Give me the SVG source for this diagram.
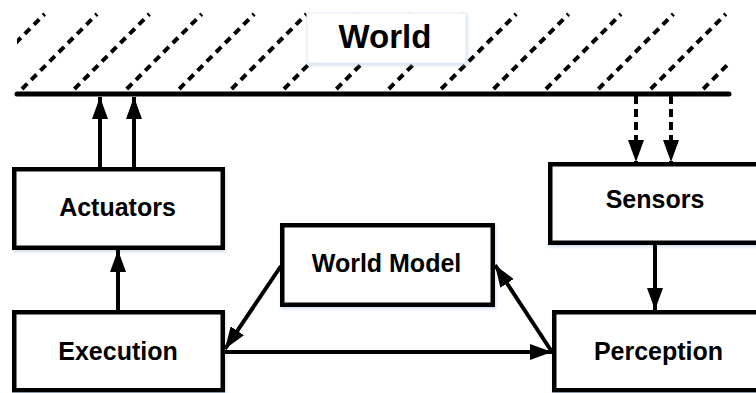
<svg xmlns="http://www.w3.org/2000/svg" width="756" height="393" viewBox="0 0 756 393">
  <style>
    .box { fill: #ffffff; stroke: #000000; stroke-width: 4.5; filter: url(#soft); }
    .lbl { font-family: "Liberation Sans", Arial, sans-serif; font-weight: bold; font-size: 25px; fill: #000000; text-anchor: middle; }
    .title { font-size: 33px; }
    .hatch line { stroke: #000000; stroke-width: 4; stroke-dasharray: 7.5 5.5; stroke-linecap: butt; }
    .link { stroke: #000000; stroke-width: 4; fill: none; }
    .dash { stroke-dasharray: 8 5; }
  </style>
  <defs>
    <marker id="head" markerUnits="userSpaceOnUse" markerWidth="22" markerHeight="16" refX="22" refY="8" orient="auto">
      <path d="M0,0 L22,8 L0,16 z" fill="#000000"/>
    </marker>
    <filter id="soft" x="-10%" y="-10%" width="120%" height="130%">
      <feDropShadow dx="1" dy="2" stdDeviation="1.5" flood-color="#9db8d9" flood-opacity="0.45"/>
    </filter>
    <clipPath id="worldArea">
      <rect x="17" y="12" width="712" height="80"/>
    </clipPath>
  </defs>

  <!-- environment: hatched ground above the boundary line -->
  <g id="world">
    <g class="hatch" clip-path="url(#worldArea)">
      <line x1="-30.4" y1="89" x2="44.6" y2="14"/>
      <line x1="22" y1="89" x2="97" y2="14"/>
      <line x1="74.4" y1="89" x2="149.4" y2="14"/>
      <line x1="126.8" y1="89" x2="201.8" y2="14"/>
      <line x1="179.2" y1="89" x2="254.2" y2="14"/>
      <line x1="231.6" y1="89" x2="306.6" y2="14"/>
      <line x1="284" y1="89" x2="359" y2="14"/>
      <line x1="336.4" y1="89" x2="411.4" y2="14"/>
      <line x1="388.8" y1="89" x2="463.8" y2="14"/>
      <line x1="441.2" y1="89" x2="516.2" y2="14"/>
      <line x1="493.6" y1="89" x2="568.6" y2="14"/>
      <line x1="546" y1="89" x2="621" y2="14"/>
      <line x1="598.4" y1="89" x2="673.4" y2="14"/>
      <line x1="650.8" y1="89" x2="725.8" y2="14"/>
      <line x1="703.2" y1="89" x2="778.2" y2="14"/>
    </g>
    <rect x="307" y="13" width="159" height="50" fill="#ffffff" stroke="#e4ecf4" stroke-width="1" filter="url(#soft)"/>
    <text x="385" y="48" class="lbl title">World</text>
    <line x1="17" y1="94" x2="729" y2="94" stroke="#000000" stroke-width="5" stroke-linecap="round"/>
  </g>

  <g id="actuators">
    <rect class="box" x="14.25" y="169.25" width="208.5" height="78.5"/>
    <text x="117.5" y="216" class="lbl">Actuators</text>
  </g>

  <g id="execution">
    <rect class="box" x="14.25" y="312.25" width="208.5" height="78"/>
    <text x="118" y="360" class="lbl">Execution</text>
  </g>

  <g id="world-model">
    <rect class="box" x="282.25" y="225.25" width="210.5" height="79.5"/>
    <text x="386.5" y="272" class="lbl">World Model</text>
  </g>

  <g id="sensors">
    <rect class="box" x="550.25" y="164.25" width="215" height="78.5"/>
    <text x="655" y="208" class="lbl">Sensors</text>
  </g>

  <g id="perception">
    <rect class="box" x="554.25" y="312.25" width="215" height="78"/>
    <text x="658.5" y="360" class="lbl">Perception</text>
  </g>

  <g id="connectors">
    <!-- actuators act on the world -->
    <line class="link" x1="100" y1="167" x2="100" y2="97" marker-end="url(#head)"/>
    <line class="link" x1="134" y1="167" x2="134" y2="97" marker-end="url(#head)"/>
    <!-- world observed by sensors -->
    <line class="link dash" x1="636" y1="96" x2="636" y2="162" marker-end="url(#head)"/>
    <line class="link dash" x1="671" y1="96" x2="671" y2="162" marker-end="url(#head)"/>
    <!-- internal flow -->
    <line class="link" x1="655" y1="245" x2="655" y2="310" marker-end="url(#head)"/>
    <line class="link" x1="118" y1="310" x2="118" y2="250" marker-end="url(#head)"/>
    <line class="link" x1="225" y1="352" x2="552" y2="352" marker-end="url(#head)"/>
    <line class="link" x1="281" y1="266" x2="225" y2="349" marker-end="url(#head)"/>
    <line class="link" x1="552" y1="352" x2="495" y2="265" marker-end="url(#head)"/>
  </g>
</svg>
